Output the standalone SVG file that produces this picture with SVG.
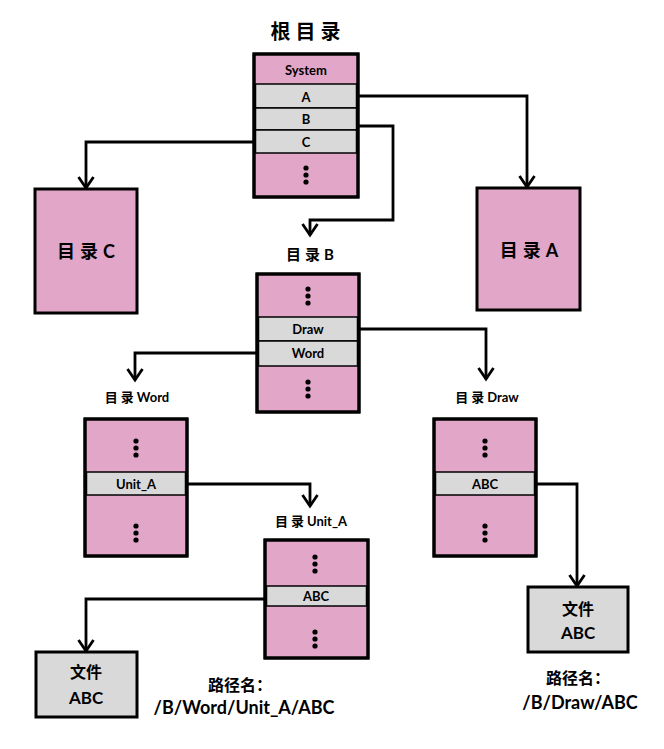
<svg xmlns="http://www.w3.org/2000/svg" width="664" height="749" viewBox="0 0 664 749">
<style>
.pk{fill:#E2A7C8;stroke:#000;stroke-width:3}
.gy{fill:#D9D9D9;stroke:#000;stroke-width:1.5}
.gf{fill:#D9D9D9;stroke:#000;stroke-width:3}
.fr{fill:none;stroke:#000;stroke-width:3}
.t{font-family:Lato,"Noto Sans CJK SC",sans-serif;font-weight:bold;fill:#000;text-anchor:middle;dominant-baseline:central}
.s{font-size:13px}
.cj{letter-spacing:3px}
.c{stroke:#000;stroke-width:2.8;fill:none}
.d{fill:#000}
</style>
<defs>
<marker id="arr" viewBox="0 0 16 18" refX="13" refY="9" markerWidth="16" markerHeight="18" markerUnits="userSpaceOnUse" orient="auto">
<path d="M2,1.5 L13,9 L2,16.5" fill="none" stroke="#000" stroke-width="2.8"/>
</marker>
<g id="dots"><circle cx="0" cy="-7" r="2.6"/><circle cx="0" cy="0" r="2.6"/><circle cx="0" cy="7" r="2.6"/></g>
</defs>

<g id="connectors" class="c">
<path d="M358,96 H527 V187" marker-end="url(#arr)"/>
<path d="M358,126 H393 V220 H310 V235" marker-end="url(#arr)"/>
<path d="M254,142 H86 V188" marker-end="url(#arr)"/>
<path d="M359,329 H486 V379" marker-end="url(#arr)"/>
<path d="M257,353 H135 V380" marker-end="url(#arr)"/>
<path d="M187,484 H310 V506" marker-end="url(#arr)"/>
<path d="M265,599 H86 V651" marker-end="url(#arr)"/>
<path d="M536,484 H577 V586" marker-end="url(#arr)"/>
</g>

<g id="root">
<text class="t" x="308" y="31" font-size="20" letter-spacing="5">根目录</text>
<rect class="pk" x="254" y="54" width="104" height="143"/>
<rect class="gy" x="255.5" y="84" width="101" height="24"/>
<rect class="gy" x="255.5" y="108" width="101" height="22"/>
<rect class="gy" x="255.5" y="130" width="101" height="23"/>
<rect class="fr" x="254" y="54" width="104" height="143"/>
<text class="t s" x="306" y="70">System</text>
<text class="t s" x="306" y="97">A</text>
<text class="t s" x="306" y="119">B</text>
<text class="t s" x="306" y="142">C</text>
<use href="#dots" class="d" x="306" y="175"/>
</g>

<g id="dirC">
<rect class="pk" x="35" y="189" width="102" height="124"/>
<text class="t" x="86" y="251" font-size="18"><tspan class="cj" style="letter-spacing:5px">目录</tspan>C</text>
</g>

<g id="dirA">
<rect class="pk" x="477" y="188" width="103" height="122"/>
<text class="t" x="529" y="250" font-size="18"><tspan class="cj" style="letter-spacing:5px">目录</tspan>A</text>
</g>

<g id="dirB">
<text class="t" x="310" y="254" font-size="15"><tspan class="cj" style="letter-spacing:4px">目录</tspan>B</text>
<rect class="pk" x="257" y="274" width="102" height="138"/>
<rect class="gy" x="258.5" y="317" width="99" height="24"/>
<rect class="gy" x="258.5" y="341" width="99" height="25"/>
<rect class="fr" x="257" y="274" width="102" height="138"/>
<text class="t s" x="308" y="329">Draw</text>
<text class="t s" x="308" y="353">Word</text>
<use href="#dots" class="d" x="308" y="296"/>
<use href="#dots" class="d" x="308" y="389"/>
</g>

<g id="dirWord">
<text class="t" x="137" y="397" font-size="13"><tspan class="cj">目录</tspan>Word</text>
<rect class="pk" x="85" y="419" width="102" height="137"/>
<rect class="gy" x="86.5" y="472" width="99" height="23"/>
<rect class="fr" x="85" y="419" width="102" height="137"/>
<text class="t s" x="136" y="484">Unit_A</text>
<use href="#dots" class="d" x="136" y="448"/>
<use href="#dots" class="d" x="136" y="533"/>
</g>

<g id="dirDraw">
<text class="t" x="487" y="397" font-size="13"><tspan class="cj">目录</tspan>Draw</text>
<rect class="pk" x="434" y="419" width="102" height="137"/>
<rect class="gy" x="435.5" y="472" width="99" height="23"/>
<rect class="fr" x="434" y="419" width="102" height="137"/>
<text class="t s" x="485" y="484">ABC</text>
<use href="#dots" class="d" x="485" y="448"/>
<use href="#dots" class="d" x="485" y="533"/>
</g>

<g id="dirUnitA">
<text class="t" x="311" y="521" font-size="13"><tspan class="cj">目录</tspan>Unit_A</text>
<rect class="pk" x="265" y="540" width="103" height="118"/>
<rect class="gy" x="266.5" y="586" width="100" height="20"/>
<rect class="fr" x="265" y="540" width="103" height="118"/>
<text class="t s" x="316" y="596">ABC</text>
<use href="#dots" class="d" x="315" y="564"/>
<use href="#dots" class="d" x="315" y="639"/>
</g>

<g id="fileWord">
<rect class="gf" x="36" y="652" width="101" height="65"/>
<text class="t" x="86" y="671" font-size="16" font-weight="500">文件</text>
<text class="t" x="86" y="697" font-size="17">ABC</text>
</g>

<g id="fileDraw">
<rect class="gf" x="528" y="587" width="100" height="65"/>
<text class="t" x="578" y="608" font-size="16" font-weight="500">文件</text>
<text class="t" x="578" y="632" font-size="17">ABC</text>
</g>

<g id="paths">
<text class="t" x="240" y="684" font-size="16">路径名：</text>
<text class="t" x="244" y="707" font-size="18">/B/Word/Unit_A/ABC</text>
<text class="t" x="578" y="677" font-size="16">路径名：</text>
<text class="t" x="580" y="702" font-size="18">/B/Draw/ABC</text>
</g>
</svg>
